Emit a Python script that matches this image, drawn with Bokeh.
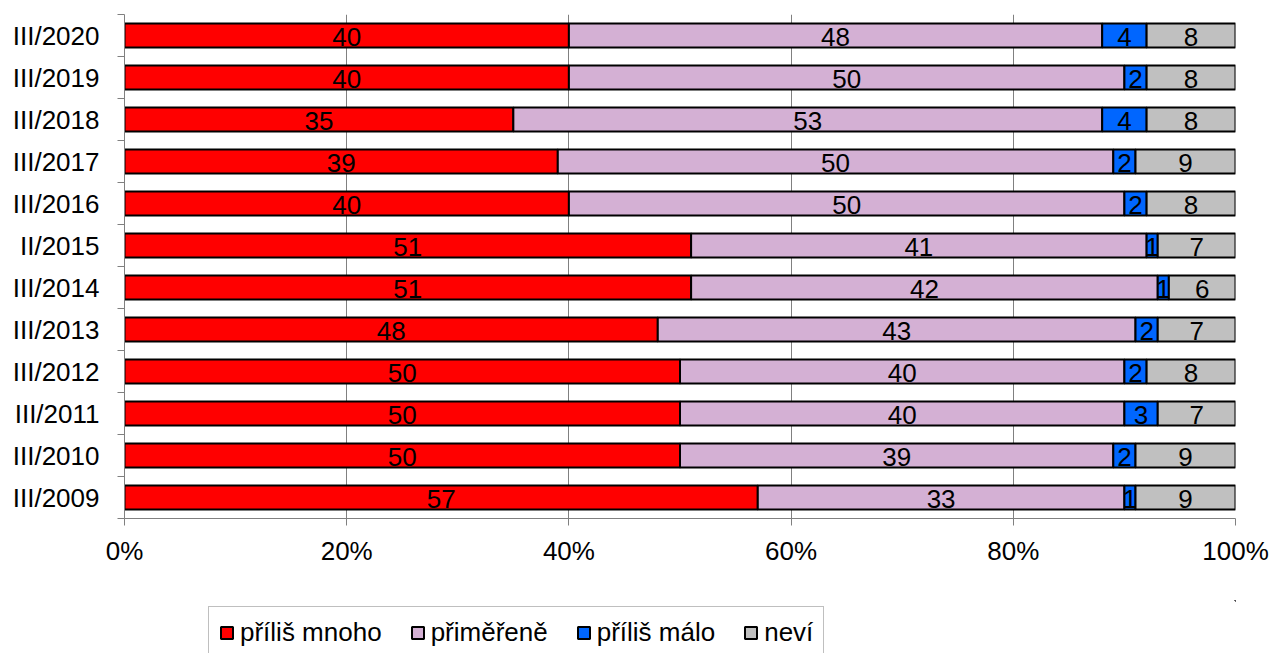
from bokeh.plotting import figure
from bokeh.layouts import column
from bokeh.models import (ColumnDataSource, Range1d, FixedTicker, Legend, LegendItem)
from bokeh.core.properties import value
from bokeh.embed import file_html
from bokeh.resources import INLINE

# bottom to top
categories = ["III/2009", "III/2010", "III/2011", "III/2012", "III/2013", "III/2014",
              "II/2015", "III/2016", "III/2017", "III/2018", "III/2019", "III/2020"]
prilis_mnoho = [57, 50, 50, 50, 48, 51, 51, 40, 39, 35, 40, 40]
primerene    = [33, 39, 40, 40, 43, 42, 41, 50, 50, 53, 50, 48]
prilis_malo  = [1, 2, 3, 2, 2, 1, 1, 2, 2, 4, 2, 4]
nevi         = [9, 9, 7, 8, 7, 6, 7, 8, 9, 8, 8, 8]
series_names = ["příliš mnoho", "přiměřeně", "příliš málo", "neví"]
series_colors = ["#FF0000", "#D4B0D4", "#0066FF", "#C0C0C0"]
x_ticks = [0, 20, 40, 60, 80, 100]
x_tick_labels = ["0%", "20%", "40%", "60%", "80%", "100%"]

FONT = "Liberation Sans"
FS = "26px"

series = [prilis_mnoho, primerene, prilis_malo, nevi]
ypos = [i + 0.5 for i in range(len(categories))]

p = figure(width=1273, height=600, output_backend="svg", toolbar_location=None,
           x_range=Range1d(0, 100), y_range=Range1d(0, len(categories)),
           min_border_left=124, min_border_right=38, min_border_top=14, min_border_bottom=82)
p.outline_line_color = None
p.background_fill_color = "white"

left = [0.0] * len(categories)
for name, vals, col in zip(series_names, series, series_colors):
    right = [l + v for l, v in zip(left, vals)]
    mid = [(l + r) / 2 for l, r in zip(left, right)]
    src = ColumnDataSource(dict(y=ypos, left=left, right=right, mid=mid,
                                lab=[str(v) for v in vals]))
    p.hbar(y="y", left="left", right="right", height=0.57, source=src,
           fill_color=col, line_color="black", line_width=2)
    p.text(x="mid", y="y", text="lab", source=src, text_align="center",
           text_baseline="middle", text_font=value(FONT), text_font_size=FS,
           text_color="black", y_offset=1)
    left = right

# x axis
p.xaxis.ticker = FixedTicker(ticks=x_ticks)
p.xaxis.major_label_overrides = {t: l for t, l in zip(x_ticks, x_tick_labels)}
p.xaxis.major_label_text_font = FONT
p.xaxis.major_label_text_font_size = FS
p.xaxis.major_label_text_color = "black"
p.xaxis.axis_line_color = "#808080"
p.xaxis.major_tick_line_color = "#808080"
p.xaxis.major_tick_out = 7
p.xaxis.major_tick_in = 0
p.xaxis.minor_tick_line_color = None
p.xaxis.major_label_standoff = 10

# y axis
p.yaxis.ticker = FixedTicker(ticks=ypos, minor_ticks=list(range(len(categories) + 1)))
p.yaxis.major_label_overrides = {y: c for y, c in zip(ypos, categories)}
p.yaxis.major_label_text_font = FONT
p.yaxis.major_label_text_font_size = FS
p.yaxis.major_label_text_color = "black"
p.yaxis.axis_line_color = "#808080"
p.yaxis.major_tick_line_color = None
p.yaxis.major_tick_out = 0
p.yaxis.major_tick_in = 0
p.yaxis.minor_tick_line_color = "#808080"
p.yaxis.minor_tick_out = 7
p.yaxis.minor_tick_in = 0
p.yaxis.major_label_standoff = 18

p.xgrid.ticker = FixedTicker(ticks=[20, 40, 60, 80, 100])
p.xgrid.grid_line_color = "#808080"
p.xgrid.grid_line_width = 1
p.ygrid.grid_line_color = None

# legend figure below the chart (same side borders so frames align)
pl = figure(width=1273, height=53, output_backend="svg", toolbar_location=None,
            x_range=Range1d(0, 1), y_range=Range1d(0, 1),
            min_border_left=124, min_border_right=38, min_border_top=0, min_border_bottom=0)
pl.axis.visible = False
pl.grid.visible = False
pl.outline_line_color = None
items = []
for name, col in zip(series_names, series_colors):
    r = pl.hbar(y=[5], left=[5], right=[6], height=0.5,
                fill_color=col, line_color="black", line_width=2)
    items.append(LegendItem(label=name, renderers=[r]))

legend = Legend(items=items, orientation="horizontal", location=(84, -6))
legend.label_text_font = FONT
legend.label_text_font_size = FS
legend.label_text_color = "black"
legend.label_height = 20
legend.label_text_line_height = 1.0
legend.glyph_width = 15
legend.glyph_height = 15
legend.label_standoff = 6
legend.spacing = 28
legend.padding = 10
legend.margin = 0
legend.border_line_color = "#808080"
legend.border_line_width = 1
legend.background_fill_alpha = 1
legend.background_fill_color = "white"
pl.add_layout(legend, "center")

layout = column(p, pl, spacing=0)
open("out.html", "w").write(file_html(layout, INLINE))
